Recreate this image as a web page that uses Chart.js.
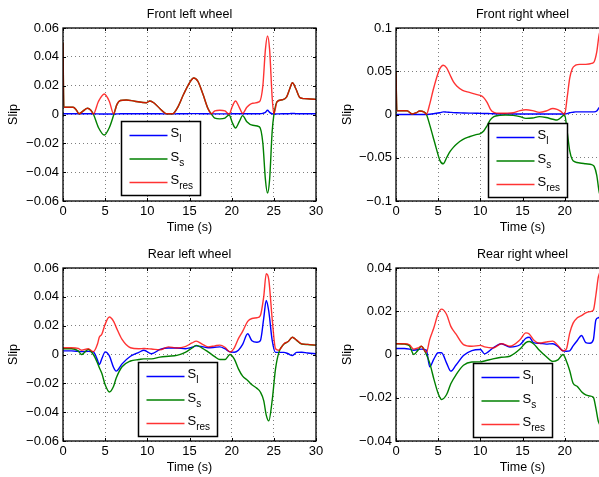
<!DOCTYPE html>
<html>
<head>
<meta charset="utf-8">
<title>Wheel slip</title>
<script src="https://cdn.jsdelivr.net/npm/chart.js@4/dist/chart.umd.min.js"></script>
<style>
  html, body { margin: 0; padding: 0; background: #fff; overflow: hidden; width: 599px; height: 477px; }
  canvas { position: absolute; }
</style>
</head>
<body>
<canvas id="frontLeft" width="330" height="238" style="left:0;top:0"></canvas>
<canvas id="frontRight" width="330" height="238" style="left:330px;top:0"></canvas>
<canvas id="rearLeft" width="330" height="238" style="left:0;top:240px"></canvas>
<canvas id="rearRight" width="330" height="238" style="left:330px;top:240px"></canvas>
<script>
// slip signals per wheel: S_l (longitudinal), S_s (side), S_res (resultant)
const frontLeftTime = [0, 0.1, 0.6, 1.2, 1.6, 1.9, 2.4, 2.9, 3.3, 3.6, 4.2, 4.9, 5.5, 6.0, 6.4, 6.8, 7.5, 8.5, 9.9, 10.3, 10.8, 11.5, 12.3, 13.0, 13.6, 14.3, 15.0, 15.5, 16.0, 16.6, 17.2, 17.6, 18.0, 18.6, 19.2, 19.7, 20.1, 20.45, 20.9, 21.3, 21.8, 22.5, 23.3, 23.7, 24.0, 24.25, 24.5, 24.8, 25.0, 25.4, 26.0, 26.5, 26.9, 27.2, 27.6, 28.1, 28.6, 29.3, 30];
const frontLeftSl = [0.0005, 0.0005, 0.0005, 0.0005, 0.0005, 0.0005, 0.0005, 0.0005, 0.0005, 0.0005, 0.0004, 0.0003, 0.0003, 0.0003, 0.0004, 0.0005, 0.0005, 0.0005, 0.0005, 0.0005, 0.0005, 0.0005, 0.0004, 0.0004, 0.0005, 0.0005, 0.0006, 0.0006, 0.0006, 0.0005, 0.0005, 0.0004, 0.0004, 0.0004, 0.0004, 0.0004, 0.0005, 0.0005, 0.0005, 0.0005, 0.0005, 0.0005, 0.0005, 0.0008, 0.0015, 0.003, 0.0015, 0.0005, 0.0003, 0.0004, 0.0005, 0.0005, 0.0006, 0.0007, 0.0006, 0.0005, 0.0005, 0.0005, 0.0005];
const frontLeftSs = [0.05, 0.005, 0.005, 0.005, 0.003, 0.0005, 0.0025, 0.0043, 0.003, 0.0003, -0.009, -0.0142, -0.009, -0.0005, 0.007, 0.0097, 0.0101, 0.0092, 0.0082, 0.0094, 0.008, 0.004, 0.0005, 0.0005, 0.005, 0.014, 0.022, 0.0253, 0.023, 0.014, 0.004, 0.0003, -0.0025, -0.003, -0.0025, -0.0003, -0.006, -0.0094, -0.005, -0.0008, -0.005, -0.0075, -0.0086, -0.02, -0.045, -0.0545, -0.045, -0.012, -0.0005, 0.009, 0.0102, 0.012, 0.018, 0.022, 0.018, 0.0117, 0.011, 0.0108, 0.0105];
const frontLeftSres = [0.05, 0.005, 0.005, 0.005, 0.003, 0.0005, 0.0025, 0.0043, 0.003, 0.0003, 0.009, 0.0142, 0.009, 0.0005, 0.007, 0.0097, 0.0101, 0.0092, 0.0082, 0.0094, 0.008, 0.004, 0.0005, 0.0005, 0.005, 0.014, 0.022, 0.0253, 0.023, 0.014, 0.004, 0.0005, 0.0025, 0.003, 0.0025, 0.0003, 0.006, 0.0094, 0.005, 0.0008, 0.005, 0.0078, 0.0089, 0.02, 0.045, 0.0545, 0.045, 0.012, 0.0005, 0.009, 0.0102, 0.012, 0.018, 0.022, 0.018, 0.0117, 0.011, 0.0108, 0.0105];

const frontRightTime = [0, 0.1, 0.6, 1.3, 1.9, 2.4, 2.8, 3.3, 3.6, 4.0, 4.4, 4.8, 5.2, 5.6, 6.0, 6.4, 6.8, 7.2, 7.9, 8.7, 9.4, 10.0, 10.4, 10.8, 11.2, 11.6, 12.3, 13.0, 13.9, 14.7, 15.4, 16.2, 17.0, 17.8, 18.6, 19.1, 19.5, 20.0, 20.3, 20.6, 20.9, 21.3, 21.8, 22.5, 23.2, 23.5, 23.8, 24.1, 24.5];
const frontRightSl = [0, 0, 0, 0, 0, 0, 0, 0, 0, 0.0003, 0.0008, 0.0015, 0.002, 0.003, 0.0028, 0.0025, 0.0022, 0.002, 0.0018, 0.0016, 0.0015, 0.0013, 0.0012, 0.0011, 0.001, 0.0008, 0.0006, 0.0005, 0.0005, 0.0005, 0.0005, 0.0005, 0.0005, 0.0005, 0.0005, 0.0005, 0.0005, 0.0005, 0.001, 0.002, 0.0025, 0.003, 0.003, 0.003, 0.003, 0.003, 0.004, 0.008, 0.009];
const frontRightSs = [0.05, 0.0044, 0.0044, 0.0044, 0.0006, 0.002, 0.004, 0.003, 0.0003, -0.012, -0.026, -0.04, -0.053, -0.057, -0.05, -0.043, -0.038, -0.034, -0.029, -0.0257, -0.0235, -0.022, -0.019, -0.013, -0.006, -0.0025, -0.001, -0.0005, -0.001, -0.0025, -0.0045, -0.004, -0.0025, -0.0035, -0.0055, -0.0064, -0.004, -0.0003, -0.02, -0.042, -0.052, -0.055, -0.056, -0.057, -0.058, -0.06, -0.07, -0.09, -0.1];
const frontRightSres = [0.05, 0.0044, 0.0044, 0.0044, 0.0006, 0.002, 0.004, 0.003, 0.0003, 0.012, 0.028, 0.042, 0.053, 0.057, 0.054, 0.046, 0.038, 0.033, 0.028, 0.0255, 0.0235, 0.022, 0.0195, 0.014, 0.006, 0.0025, 0.0014, 0.0015, 0.002, 0.0045, 0.0055, 0.0045, 0.0025, 0.004, 0.007, 0.006, 0.004, 0.0003, 0.02, 0.042, 0.053, 0.057, 0.058, 0.058, 0.059, 0.061, 0.072, 0.093, 0.1];

const rearLeftTime = [0, 1.0, 1.8, 2.2, 3.0, 3.6, 4.1, 4.3, 4.6, 5.0, 5.5, 6.0, 6.3, 7.0, 8.0, 9.0, 9.6, 10.5, 11.5, 12.5, 13.5, 14.5, 15.3, 15.8, 16.5, 17.2, 18.0, 18.6, 19.2, 19.8, 20.3, 20.8, 21.3, 21.9, 22.4, 23.0, 23.4, 23.8, 24.1, 24.4, 24.8, 25.2, 25.6, 26.2, 26.7, 27.2, 27.7, 28.3, 29.0, 30];
const rearLeftSl = [0.0025, 0.0025, 0.0022, 0.002, 0.0022, 0.0018, -0.004, -0.007, -0.003, 0.0018, -0.001, -0.009, -0.0115, -0.0065, -0.0012, 0.0015, 0.003, 0.0005, 0.0035, 0.0045, 0.0045, 0.004, 0.005, 0.006, 0.0055, 0.0047, 0.005, 0.0053, 0.004, 0.0018, 0.0016, 0.003, 0.007, 0.0144, 0.0095, 0.0085, 0.0095, 0.025, 0.0375, 0.03, 0.01, 0.0015, 0.0015, 0.0015, 0.0005, -0.0007, 0.0015, 0.0016, 0.001, 0.0005];
const rearLeftSs = [0.004, 0.004, 0.0025, 0, 0.0035, 0, -0.006, -0.009, -0.013, -0.021, -0.026, -0.022, -0.0165, -0.0085, -0.0045, -0.0035, -0.003, -0.003, -0.0018, -0.0012, -0.0006, 0.0015, 0.0045, 0.0063, 0.0045, 0.0018, -0.0015, -0.0035, -0.0035, 0, -0.003, -0.01, -0.015, -0.018, -0.021, -0.0235, -0.026, -0.032, -0.042, -0.046, -0.032, -0.01, 0.0015, 0.0072, 0.009, 0.012, 0.0098, 0.0073, 0.0069, 0.0065];
const rearLeftSres = [0.0047, 0.0047, 0.0042, 0.003, 0.004, 0.002, 0.0075, 0.012, 0.014, 0.021, 0.026, 0.023, 0.019, 0.0105, 0.0047, 0.004, 0.0042, 0.0038, 0.0032, 0.0053, 0.0045, 0.0055, 0.008, 0.0093, 0.0072, 0.0053, 0.006, 0.0065, 0.005, 0.0018, 0.0045, 0.011, 0.016, 0.023, 0.025, 0.0255, 0.027, 0.04, 0.056, 0.052, 0.025, 0.004, 0.003, 0.0075, 0.009, 0.012, 0.01, 0.0074, 0.007, 0.0065];

const rearRightTime = [0, 1.0, 1.6, 2.1, 2.6, 3.0, 3.6, 4.0, 4.5, 5.0, 5.4, 6.0, 6.5, 7.1, 8.0, 9.0, 10.0, 10.5, 11.5, 12.5, 13.5, 14.7, 15.4, 15.8, 16.3, 17.0, 17.8, 18.6, 19.2, 19.8, 20.2, 20.6, 21.0, 21.5, 22.0, 22.5, 23.0, 23.4, 23.7, 24.0, 24.5];
const rearRightSl = [0.0028, 0.0028, 0.0025, 0.002, 0.0022, 0.0025, 0.002, -0.0057, -0.002, 0.0008, 0.0008, -0.004, -0.0077, -0.005, -0.0005, 0.0018, 0.0023, 0.0003, 0.003, 0.005, 0.0035, 0.0045, 0.0075, 0.008, 0.0055, 0.0052, 0.0048, 0.005, 0.0037, 0.0017, 0.0015, 0.0017, 0.004, 0.0065, 0.0088, 0.0055, 0.0052, 0.0068, 0.016, 0.017, 0.018];
const rearRightSs = [0.005, 0.0048, 0.004, 0, 0.002, 0.0038, 0, -0.004, -0.0115, -0.018, -0.0208, -0.0185, -0.0135, -0.0095, -0.005, -0.0035, -0.0034, -0.003, -0.002, -0.0013, -0.0008, 0.0025, 0.0055, 0.006, 0.005, 0.002, -0.0009, -0.0032, -0.0025, 0, -0.003, -0.0075, -0.0133, -0.0148, -0.0172, -0.0187, -0.0192, -0.0198, -0.0248, -0.031, -0.034];
const rearRightSres = [0.005, 0.005, 0.0045, 0.0025, 0.003, 0.0038, 0.001, 0.007, 0.0125, 0.019, 0.021, 0.0185, 0.013, 0.0095, 0.0046, 0.0038, 0.0042, 0.0035, 0.003, 0.005, 0.0038, 0.0068, 0.01, 0.0095, 0.0068, 0.0052, 0.0058, 0.0062, 0.0042, 0.0017, 0.0025, 0.0099, 0.0145, 0.017, 0.018, 0.0193, 0.0198, 0.0205, 0.0274, 0.036, 0.04];

const FONT = '"Liberation Sans", Arial, Helvetica, sans-serif';
const BLUE = '#0000ff';
const GREEN = '#008000';
const RED = 'rgba(255, 0, 0, 0.8)';

// axes box with inward ticks, then a boxed legend with subscripted names
const frameAndLegend = {
  id: 'frameAndLegend',
  afterDatasetsDraw(chart, args, opts) {
    const { ctx, chartArea: a, scales: { x, y } } = chart;
    ctx.save();
    ctx.strokeStyle = '#000';
    ctx.lineWidth = 1;
    ctx.beginPath();
    x.ticks.forEach((t) => {
      const px = Math.round(x.getPixelForValue(t.value)) + 0.5;
      ctx.moveTo(px, a.bottom); ctx.lineTo(px, a.bottom - 3);
      ctx.moveTo(px, a.top); ctx.lineTo(px, a.top + 3);
    });
    y.ticks.forEach((t) => {
      const py = Math.round(y.getPixelForValue(t.value)) + 0.5;
      ctx.moveTo(a.left, py); ctx.lineTo(a.left + 3, py);
      ctx.moveTo(a.right, py); ctx.lineTo(a.right - 3, py);
    });
    ctx.stroke();
    ctx.lineWidth = 1.3;
    ctx.strokeRect(a.left, a.top, a.right - a.left, a.bottom - a.top);

    const bx = Math.round(x.getPixelForValue(opts.t)) + 0.5;
    const by = Math.round(y.getPixelForValue(opts.v)) + 0.5;
    ctx.fillStyle = '#fff';
    ctx.fillRect(bx, by, opts.w, opts.h);
    ctx.lineWidth = 1.5;
    ctx.strokeRect(bx, by, opts.w, opts.h);
    chart.data.datasets.forEach((ds, i) => {
      const ry = by + 14 + i * 23.5;
      ctx.strokeStyle = ds.borderColor;
      ctx.lineWidth = 1.4;
      ctx.beginPath();
      ctx.moveTo(bx + 8, ry);
      ctx.lineTo(bx + 46, ry);
      ctx.stroke();
      const [main, sub] = ds.label.split('_');
      ctx.fillStyle = '#000';
      ctx.textAlign = 'left';
      ctx.textBaseline = 'alphabetic';
      ctx.font = '13px ' + FONT;
      ctx.fillText(main, bx + 49, ry + 1.5);
      const w = ctx.measureText(main).width;
      ctx.font = '10px ' + FONT;
      ctx.fillText(sub, bx + 49 + w, ry + 6.5);
    });
    ctx.restore();
  },
};

function minusSign(v) {
  return String(Math.round(v * 1000) / 1000).replace('-', '\u2212');
}

function wheelChart(id, title, time, sl, ss, sres, cfg) {
  const points = (vals) => time.map((t, i) => ({ x: t, y: vals[i] }));
  return new Chart(document.getElementById(id), {
    type: 'line',
    data: {
      datasets: [
        { label: 'S_l', data: points(sl), borderColor: BLUE, order: 3 },
        { label: 'S_s', data: points(ss), borderColor: GREEN, order: 2 },
        { label: 'S_res', data: points(sres), borderColor: RED, order: 1 },
      ],
    },
    options: {
      responsive: false,
      animation: false,
      events: [],
      layout: { padding: { left: 0, right: cfg.rightPad, top: 0, bottom: 0 } },
      elements: {
        point: { radius: 0 },
        line: { borderWidth: 1.4, cubicInterpolationMode: 'monotone', fill: false },
      },
      scales: {
        x: {
          type: 'linear',
          min: 0,
          max: 30,
          ticks: { stepSize: 5, padding: 3, color: '#000', font: { family: FONT, size: 13 }, maxRotation: 0, autoSkip: false },
          grid: { color: 'rgba(0,0,0,0.5)', lineWidth: 1, drawTicks: false },
          border: { display: false, dash: [1, 3] },
          title: { display: true, text: 'Time (s)', color: '#000', font: { family: FONT, size: 12.5 }, padding: { top: 0, bottom: 2.5 } },
          afterFit: (s) => { s.height = 37; },
        },
        y: {
          min: cfg.yMin,
          max: cfg.yMax,
          ticks: { stepSize: cfg.yStep, padding: 4, color: '#000', font: { family: FONT, size: 13 }, callback: minusSign },
          grid: { color: 'rgba(0,0,0,0.5)', lineWidth: 1, drawTicks: false },
          border: { display: false, dash: [1, 3] },
          title: { display: true, text: 'Slip', color: '#000', font: { family: FONT, size: 12.5 }, padding: { top: cfg.slipPad, bottom: 0 } },
          afterFit: (s) => { s.width = cfg.yWidth; },
        },
      },
      plugins: {
        legend: { display: false },
        tooltip: { enabled: false },
        title: {
          display: true,
          fullSize: false,
          text: title,
          color: '#000',
          font: { family: FONT, size: 12.5, weight: 'normal' },
          padding: { top: 7, bottom: 6 },
        },
        frameAndLegend: cfg.legend,
      },
    },
    plugins: [frameAndLegend],
  });
}

wheelChart('frontLeft', 'Front left wheel', frontLeftTime, frontLeftSl, frontLeftSs, frontLeftSres, {
  yMin: -0.06, yMax: 0.06, yStep: 0.02, yWidth: 63, slipPad: 6.5, rightPad: 14,
  legend: { t: 6.88, v: -0.0045, w: 79, h: 74 },
});
wheelChart('frontRight', 'Front right wheel', frontRightTime, frontRightSl, frontRightSs, frontRightSres, {
  yMin: -0.1, yMax: 0.1, yStep: 0.05, yWidth: 66, slipPad: 10.5, rightPad: 11,
  legend: { t: 10.91, v: -0.0098, w: 79, h: 74 },
});
wheelChart('rearLeft', 'Rear left wheel', rearLeftTime, rearLeftSl, rearLeftSs, rearLeftSres, {
  yMin: -0.06, yMax: 0.06, yStep: 0.02, yWidth: 63, slipPad: 6.5, rightPad: 14,
  legend: { t: 8.89, v: -0.0052, w: 79, h: 74 },
});
wheelChart('rearRight', 'Rear right wheel', rearRightTime, rearRightSl, rearRightSs, rearRightSres, {
  yMin: -0.04, yMax: 0.04, yStep: 0.02, yWidth: 66, slipPad: 10.5, rightPad: 11,
  legend: { t: 9.13, v: -0.0039, w: 79, h: 74 },
});
</script>
</body>
</html>
